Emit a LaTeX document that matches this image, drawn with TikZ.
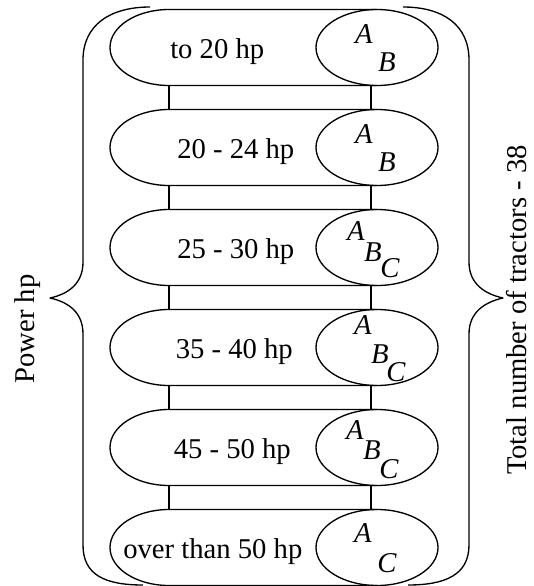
\documentclass[tikz,border=0pt]{standalone}
\usepackage{fontspec}
\setmainfont{Liberation Serif}[ItalicFont={Liberation Serif Italic}]
\usetikzlibrary{shapes.geometric}
\begin{document}
\begin{tikzpicture}[x=0.75pt,y=-0.75pt,
  outline/.style={line width=1pt, line join=round},
  rowtext/.style={font=\fontsize{21.5}{26}\selectfont, inner sep=0pt, anchor=west},
  sidetext/.style={font=\fontsize{21.5}{26}\selectfont, inner sep=0pt, rotate=90},
  letter/.style={font=\fontsize{21.5}{26}\selectfont\itshape, inner sep=0pt},
  classes/.style={draw, ellipse, line width=1pt, minimum width=91.5pt,
                  minimum height=57pt, inner sep=0pt}]
\useasboundingbox (0,0) rectangle (533,586);

% power classes: a long rounded bar ending in an ellipse of tractor groups
\foreach \i/\cy/\tx/\txt in {1/47.5/170/to 20 hp, 2/147.5/177/20 - 24 hp,
    3/247.5/177/25 - 30 hp, 4/347.5/175.5/35 - 40 hp,
    5/447.5/173.5/45 - 50 hp, 6/547.5/123/over than 50 hp}{
  \draw[outline] (377,\cy-38) -- (169,\cy-38)
    .. controls (136.4,\cy-38) and (110,\cy-21) .. (110,\cy)
    .. controls (110,\cy+21) and (136.4,\cy+38) .. (169,\cy+38)
    -- (377,\cy+38);
  \node[classes] (c\i) at (377,\cy) {};
  \node[rowtext] (t\i) at (\tx,\cy+4) {\txt};
  \coordinate (bl\i) at (169,\cy+38);
  \coordinate (tr\i) at (371,\cy-38);
}

% links between neighbouring classes
\foreach \i/\j in {1/2,2/3,3/4,4/5,5/6}
  \draw[outline] (bl\i) rectangle (tr\j);

% tractor groups in each class
\node[letter] (a1) at (364,34.5) {A};
\node[letter] (b1) at (387,62.5) {B};
\node[letter] (a2) at (364,134.5) {A};
\node[letter] (b2) at (387,162.5) {B};
\node[letter] (a3) at (356,231) {A};
\node[letter] (b3) at (373,252) {B};
\node[letter] (k3) at (390,268) {C};
\node[letter] (a4) at (363,325) {A};
\node[letter] (b4) at (380,354) {B};
\node[letter] (k4) at (396,372) {C};
\node[letter] (a5) at (355,430) {A};
\node[letter] (b5) at (372,450) {B};
\node[letter] (k5) at (389,469) {C};
\node[letter] (a6) at (363,533) {A};
\node[letter] (k6) at (387,563) {C};

% braces round the whole list
\draw[outline] (150,7) .. controls (110,7) and (83,25) .. (83,60)
  -- (83,262) .. controls (83,284) and (68,294) .. (50,298)
  .. controls (68,302) and (83,312) .. (83,334)
  -- (83,545) .. controls (83,575) and (105,585) .. (143,585);
\draw[outline] (403,7) .. controls (443,7) and (469,25) .. (469,60)
  -- (469,262) .. controls (469,284) and (485,294) .. (503,298)
  .. controls (485,302) and (469,312) .. (469,334)
  -- (469,545) .. controls (469,575) and (445,585) .. (408,585);

\node[sidetext] (power) at (28,329) {Power hp};
\node[sidetext] (total) at (517,310) {Total number of tractors - 38};
\end{tikzpicture}
\end{document}
